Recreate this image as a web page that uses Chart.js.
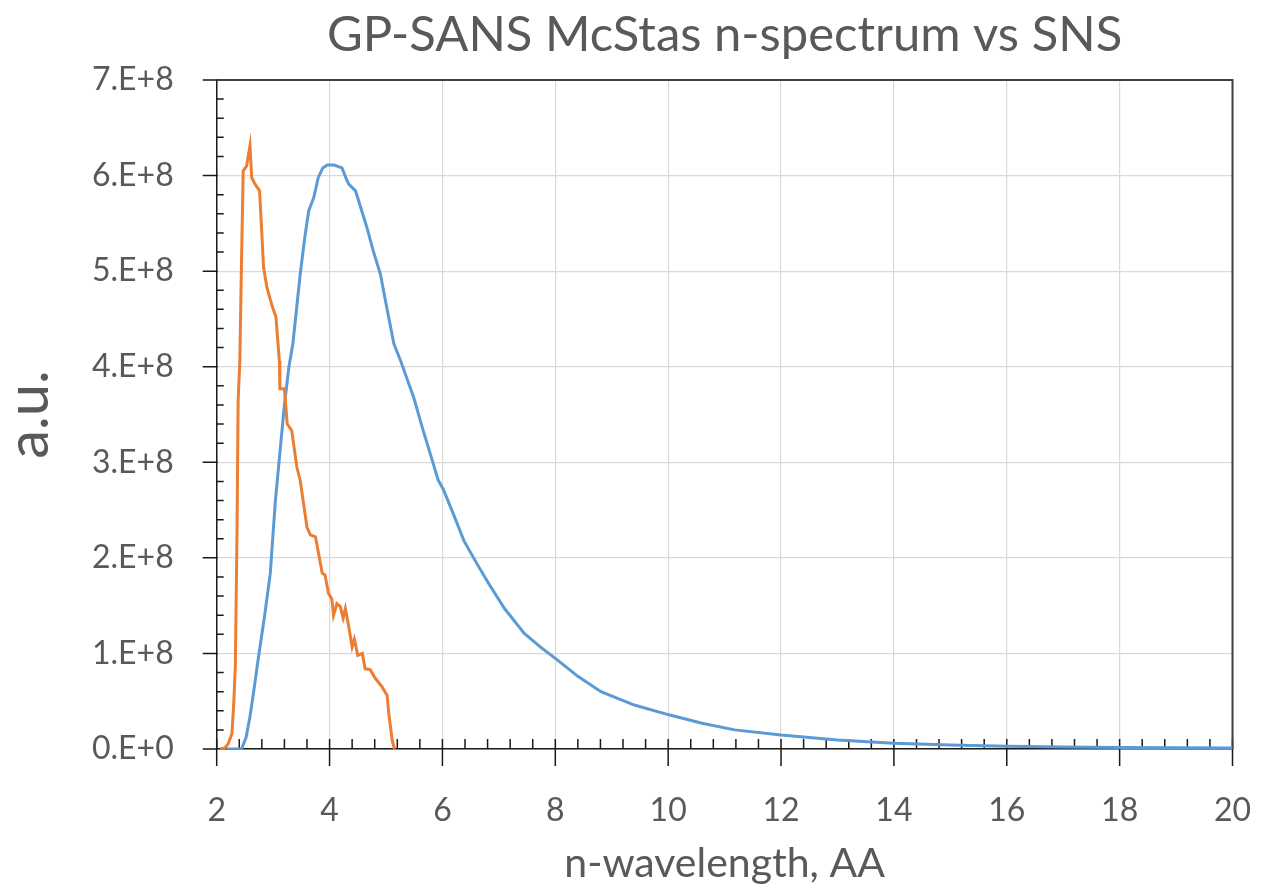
<!DOCTYPE html>
<html>
<head>
<meta charset="utf-8">
<script src="https://cdn.jsdelivr.net/npm/chart.js@4.4.1/dist/chart.umd.min.js"></script>
<style>
  html, body { margin: 0; padding: 0; background: #fff; }
  #wrap { width: 1263px; height: 894px; }
</style>
</head>
<body>
<div id="wrap"><canvas id="spectrum" width="1263" height="894"></canvas></div>
<script>
// wavelength (AA) and intensity (a.u.)
const blueLambda = [2.18, 2.44, 2.52, 2.59, 2.66, 2.74, 2.85, 2.95, 3.04, 3.12, 3.2, 3.28, 3.35, 3.48, 3.56, 3.63, 3.72, 3.8, 3.88, 3.96, 4.08, 4.22, 4.3, 4.34, 4.46, 4.56, 4.66, 4.78, 4.9, 5.02, 5.14, 5.26, 5.38, 5.49, 5.65, 5.82, 5.92, 6.02, 6.2, 6.38, 6.6, 6.8, 7.1, 7.45, 7.75, 8.04, 8.4, 8.81, 9.4, 10.03, 10.6, 11.18, 12.0, 13.0, 14.0, 15.0, 16.0, 17.0, 18.0, 19.0, 20.0];
const blueValues = [0, 0, 0.12e8, 0.34e8, 0.62e8, 0.96e8, 1.4e8, 1.84e8, 2.6e8, 3.1e8, 3.6e8, 4.0e8, 4.24e8, 4.97e8, 5.35e8, 5.63e8, 5.77e8, 5.98e8, 6.08e8, 6.11e8, 6.11e8, 6.08e8, 5.96e8, 5.91e8, 5.84e8, 5.65e8, 5.46e8, 5.2e8, 4.97e8, 4.6e8, 4.24e8, 4.06e8, 3.86e8, 3.68e8, 3.35e8, 3.02e8, 2.82e8, 2.71e8, 2.45e8, 2.18e8, 1.95e8, 1.75e8, 1.47e8, 1.21e8, 1.06e8, 0.93e8, 0.76e8, 0.6e8, 0.46e8, 0.355e8, 0.27e8, 0.2e8, 0.146e8, 0.095e8, 0.06e8, 0.042e8, 0.03e8, 0.022e8, 0.016e8, 0.012e8, 0.01e8];

const orangeLambda = [2.06, 2.14, 2.2, 2.27, 2.3, 2.33, 2.36, 2.38, 2.41, 2.44, 2.47, 2.53, 2.59, 2.62, 2.68, 2.76, 2.8, 2.83, 2.89, 2.98, 3.05, 3.11, 3.12, 3.2, 3.25, 3.33, 3.42, 3.48, 3.6, 3.66, 3.75, 3.87, 3.92, 3.98, 4.04, 4.07, 4.13, 4.19, 4.24, 4.28, 4.34, 4.4, 4.44, 4.5, 4.58, 4.63, 4.72, 4.81, 4.93, 5.02, 5.05, 5.11, 5.15];
const orangeValues = [0, 0.01e8, 0.05e8, 0.16e8, 0.45e8, 0.86e8, 2.26e8, 3.65e8, 4.06e8, 5.11e8, 6.05e8, 6.1e8, 6.31e8, 5.98e8, 5.91e8, 5.84e8, 5.39e8, 5.04e8, 4.83e8, 4.64e8, 4.52e8, 4.06e8, 3.77e8, 3.77e8, 3.4e8, 3.33e8, 2.95e8, 2.81e8, 2.32e8, 2.24e8, 2.22e8, 1.84e8, 1.82e8, 1.63e8, 1.57e8, 1.4e8, 1.52e8, 1.49e8, 1.37e8, 1.47e8, 1.28e8, 1.07e8, 1.15e8, 0.98e8, 1.0e8, 0.84e8, 0.83e8, 0.74e8, 0.65e8, 0.56e8, 0.37e8, 0.09e8, 0];

const xMin = 2, xMax = 20, xStep = 2, xMinorStep = 0.4;
const yMin = 0, yMax = 7e8, yStep = 1e8, yMinorStep = 0.2e8;

const textColor = '#595959';
const fontFamily = 'Lato, "Open Sans", sans-serif';

function toPoints(xs, ys) {
  return xs.map((v, i) => ({ x: v, y: ys[i] }));
}

function sciLabel(v) {
  if (v === 0) return '0.E+0';
  const e = Math.floor(Math.log10(v) + 1e-9);
  return Math.round(v / Math.pow(10, e)) + '.E+' + e;
}

// minor ticks, crossing major ticks and the dark top/right frame
const axisDecor = {
  id: 'axisDecor',
  beforeDatasetsDraw(chart) {
    const { ctx, chartArea: a, scales: { x, y } } = chart;
    ctx.save();
    ctx.strokeStyle = '#1a1a1a';
    ctx.lineWidth = 1.5;
    ctx.beginPath();
    const nx = Math.round((xMax - xMin) / xMinorStep);
    for (let i = 0; i <= nx; i++) {
      const v = xMin + i * xMinorStep;
      const px = x.getPixelForValue(v);
      const major = i % 5 === 0;
      ctx.moveTo(px, a.bottom - 10);
      ctx.lineTo(px, a.bottom + (major ? 17 : 0));
    }
    const ny = Math.round((yMax - yMin) / yMinorStep);
    for (let i = 0; i <= ny; i++) {
      const v = yMin + i * yMinorStep;
      const py = y.getPixelForValue(v);
      if (i % 5 === 0) {
        ctx.moveTo(a.left - 14, py);
        ctx.lineTo(a.left + 1, py);
      } else {
        ctx.moveTo(a.left, py);
        ctx.lineTo(a.left + 7, py);
      }
    }
    ctx.stroke();

    ctx.strokeStyle = '#404040';
    ctx.lineWidth = 2;
    ctx.beginPath();
    ctx.moveTo(a.left, a.top);
    ctx.lineTo(a.right, a.top);
    ctx.lineTo(a.right, a.bottom);
    ctx.stroke();
    ctx.restore();
  }
};

const ctx = document.getElementById('spectrum').getContext('2d');
new Chart(ctx, {
  type: 'line',
  data: {
    datasets: [
      {
        label: 'McStas',
        data: toPoints(blueLambda, blueValues),
        borderColor: '#5B9BD5',
        borderWidth: 3,
        pointRadius: 0,
        tension: 0,
        fill: false,
        order: 1
      },
      {
        label: 'SNS',
        data: toPoints(orangeLambda, orangeValues),
        borderColor: '#ED7D31',
        borderWidth: 3,
        pointRadius: 0,
        tension: 0,
        fill: false,
        order: 0
      }
    ]
  },
  options: {
    responsive: false,
    animation: false,
    layout: { padding: { left: 0, right: 30.5, top: 0, bottom: 0 } },
    plugins: {
      legend: { display: false },
      tooltip: { enabled: false },
      title: {
        display: true,
        fullSize: false,
        text: 'GP-SANS McStas n-spectrum vs SNS',
        color: textColor,
        font: { family: fontFamily, size: 49, weight: 'normal', lineHeight: 1.2 },
        padding: { top: 6, bottom: 15.2 }
      }
    },
    scales: {
      x: {
        type: 'linear',
        min: xMin,
        max: xMax,
        afterFit(scale) {
          scale.height = 145;
          scale.paddingLeft = 0;
          scale.paddingRight = 0;
        },
        ticks: {
          stepSize: xStep,
          color: textColor,
          padding: 42,
          font: { family: fontFamily, size: 32 }
        },
        grid: { color: '#d9d9d9', lineWidth: 1.2, drawTicks: false },
        border: { color: '#1a1a1a', width: 1.5 },
        title: {
          display: true,
          text: 'n-wavelength, AA',
          color: textColor,
          font: { family: fontFamily, size: 41 },
          padding: { top: 0, bottom: 6 }
        }
      },
      y: {
        type: 'linear',
        min: yMin,
        max: yMax,
        afterFit(scale) { scale.width = 216.7; },
        ticks: {
          stepSize: yStep,
          color: textColor,
          padding: 43,
          font: { family: fontFamily, size: 32 },
          callback: (v) => sciLabel(v)
        },
        grid: { color: '#d9d9d9', lineWidth: 1.2, drawTicks: false },
        border: { color: '#1a1a1a', width: 1.5 },
        title: {
          display: true,
          text: 'a.u.',
          color: textColor,
          font: { family: fontFamily, size: 58, lineHeight: 1.0 },
          padding: { top: 0, bottom: 0 }
        }
      }
    }
  },
  plugins: [axisDecor]
});
</script>
</body>
</html>
